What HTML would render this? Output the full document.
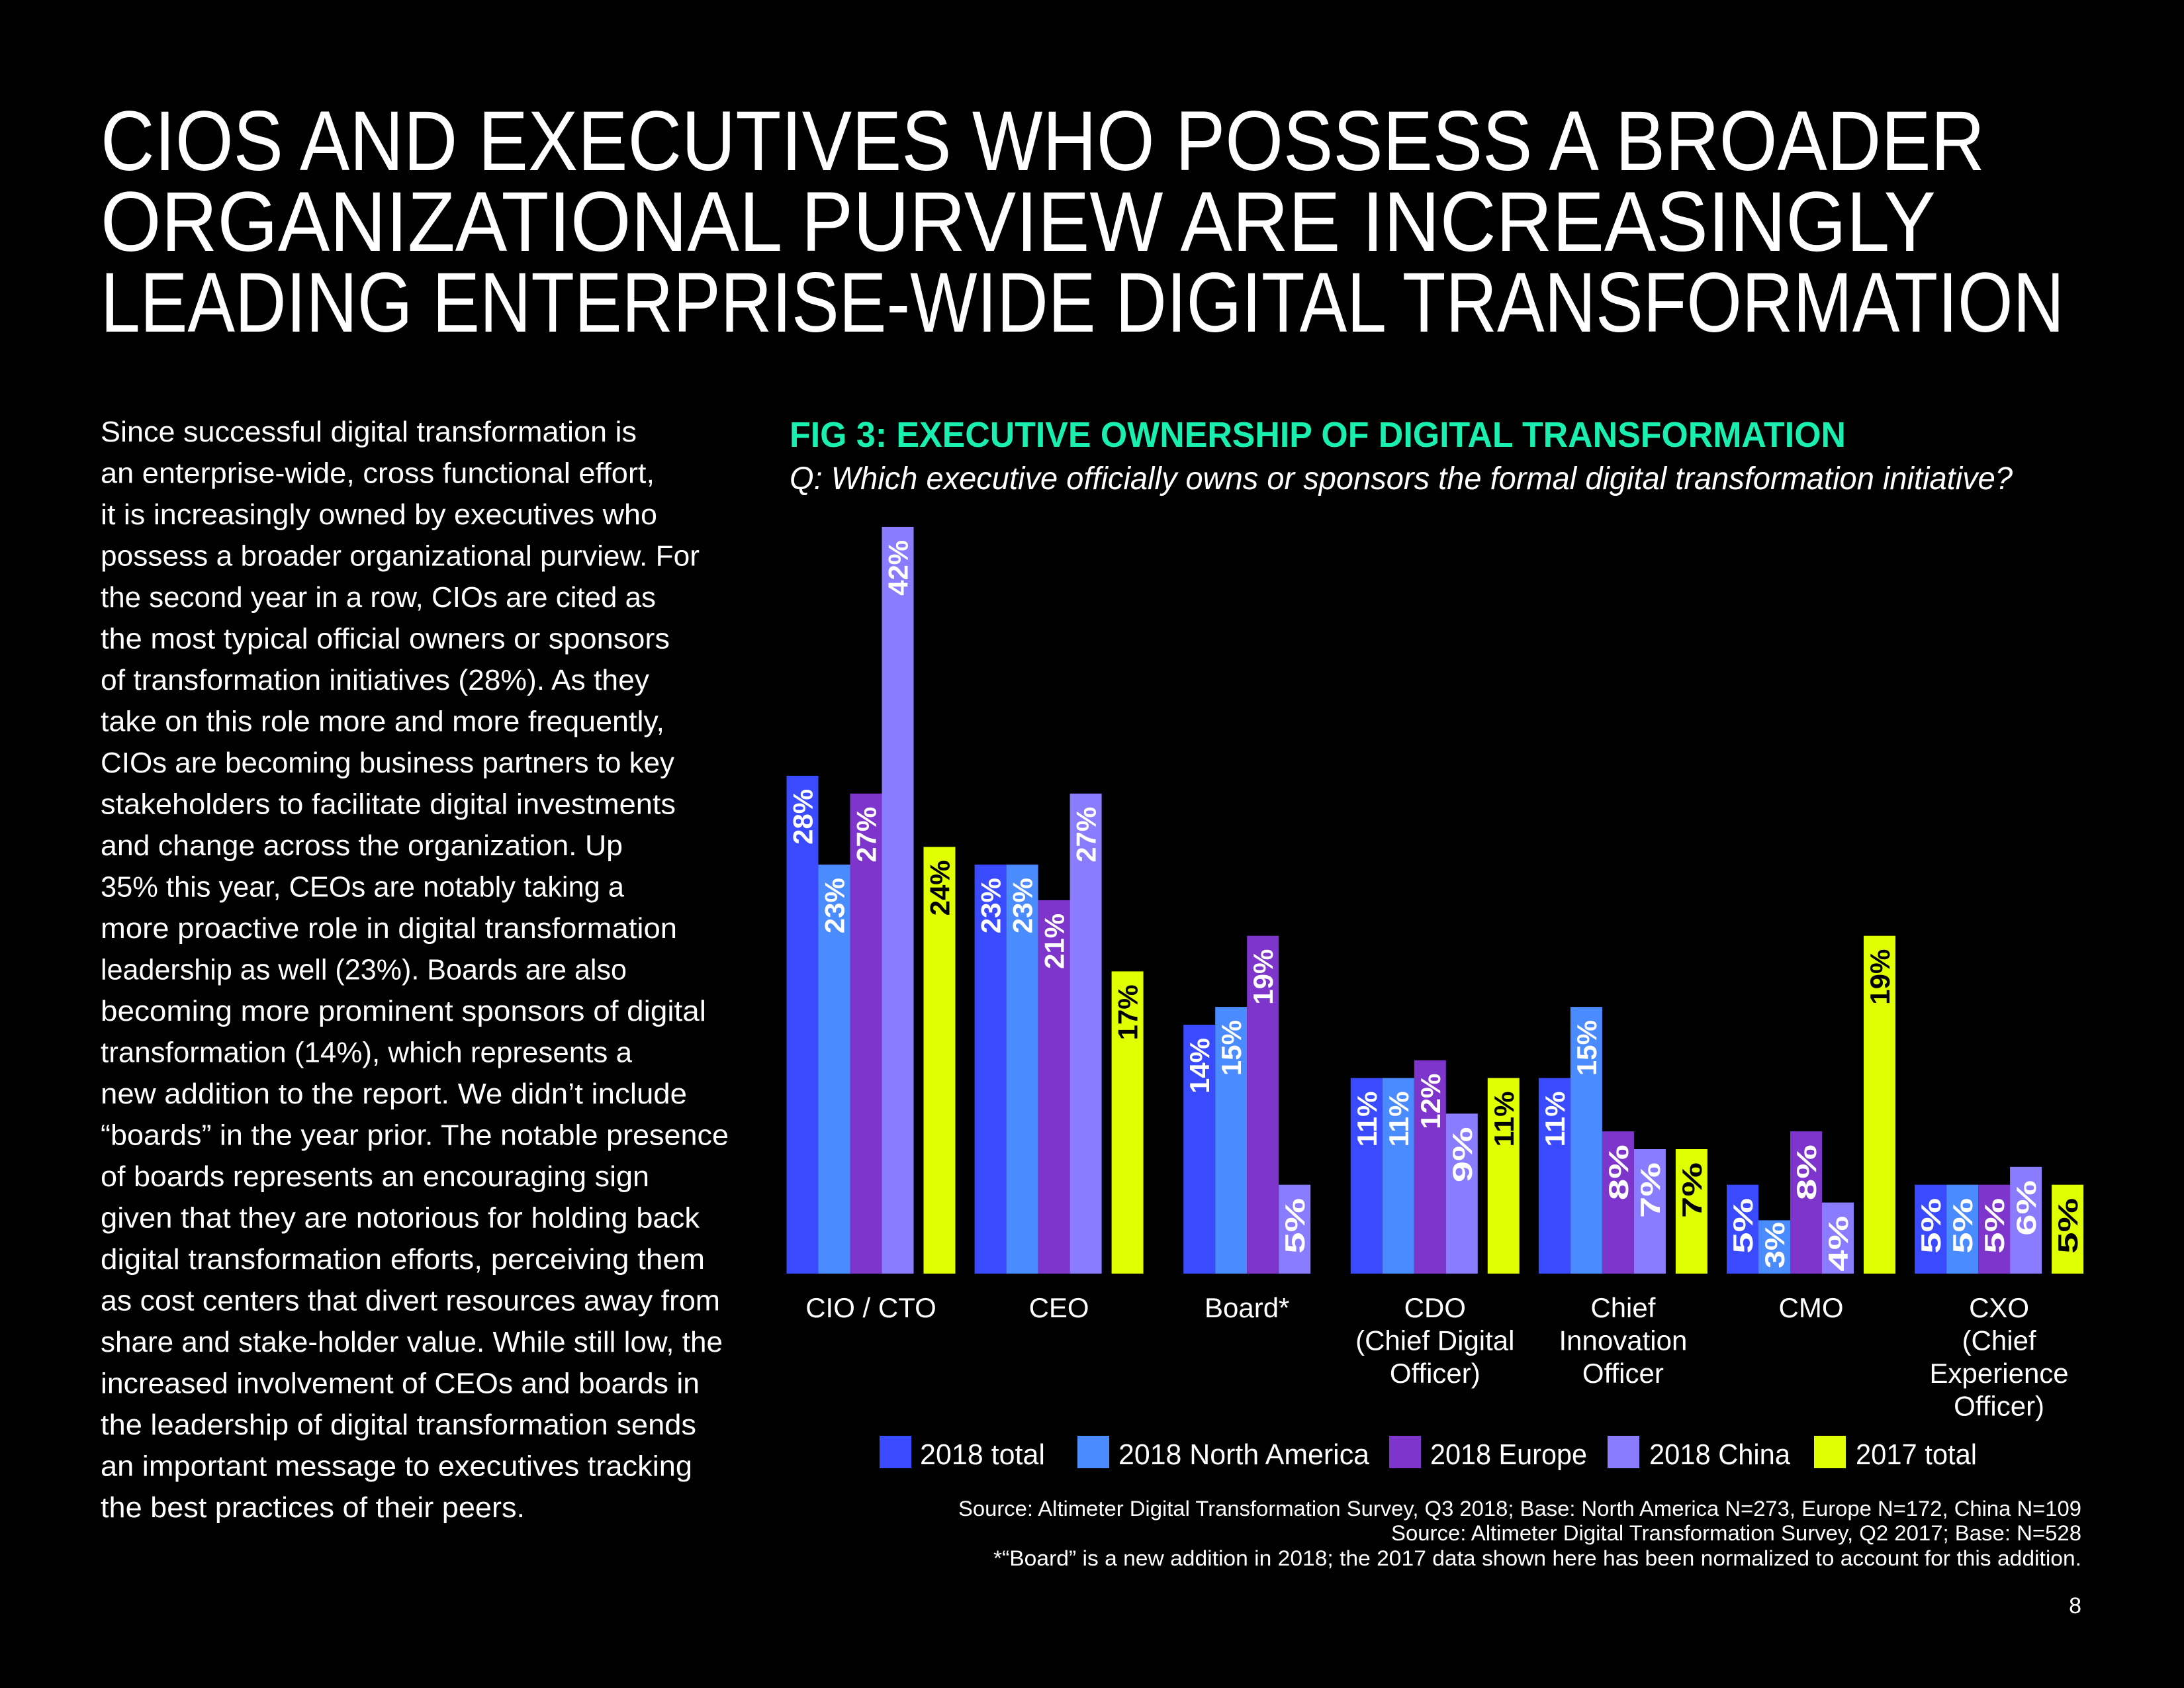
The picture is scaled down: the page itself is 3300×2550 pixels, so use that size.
<!DOCTYPE html>
<html><head><meta charset="utf-8"><style>
html,body{margin:0;padding:0;background:#000;}
svg{display:block;}
text{font-family:"Liberation Sans",sans-serif;}
</style></head><body>
<svg id="pg" width="3300" height="2550" viewBox="0 0 3300 2550" xmlns="http://www.w3.org/2000/svg">
<rect x="0" y="0" width="3300" height="2550" fill="#000"/>
<g fill="#fff" font-size="128">
<text x="152" y="257" textLength="2847" lengthAdjust="spacingAndGlyphs">CIOS AND EXECUTIVES WHO POSSESS A BROADER</text>
<text x="152" y="379" textLength="2773" lengthAdjust="spacingAndGlyphs">ORGANIZATIONAL PURVIEW ARE INCREASINGLY</text>
<text x="152" y="501" textLength="2967" lengthAdjust="spacingAndGlyphs">LEADING ENTERPRISE-WIDE DIGITAL TRANSFORMATION</text>
</g>
<g id="body" fill="#fff" font-size="44"></g>
<text x="1193" y="675" font-size="54" font-weight="bold" fill="#19f0b0" textLength="1596" lengthAdjust="spacingAndGlyphs">FIG 3: EXECUTIVE OWNERSHIP OF DIGITAL TRANSFORMATION</text>
<text x="1193" y="739" font-size="48" font-style="italic" fill="#fff" textLength="1848" lengthAdjust="spacingAndGlyphs">Q: Which executive officially owns or sponsors the formal digital transformation initiative?</text>
<g id="chart"></g>
<g id="legend"></g>
<g fill="#fff" font-size="32" text-anchor="end">
<text x="3145" y="2290" textLength="1697" lengthAdjust="spacingAndGlyphs">Source: Altimeter Digital Transformation Survey, Q3 2018; Base: North America N=273, Europe N=172, China N=109</text>
<text x="3145" y="2327" textLength="1043" lengthAdjust="spacingAndGlyphs">Source: Altimeter Digital Transformation Survey, Q2 2017; Base: N=528</text>
<text x="3145" y="2365" textLength="1644" lengthAdjust="spacingAndGlyphs">*“Board” is a new addition in 2018; the 2017 data shown here has been normalized to account for this addition.</text>
</g>
<text x="3145" y="2437" font-size="34" fill="#fff" text-anchor="end">8</text>
</svg>
<script>
const NS='http://www.w3.org/2000/svg';
function mk(tag,attrs,parent,txt){const e=document.createElementNS(NS,tag);for(const k in attrs)e.setAttribute(k,attrs[k]);if(txt!==undefined)e.textContent=txt;parent.appendChild(e);return e;}

// body text
const bodyLines=["Since successful digital transformation is","an enterprise-wide, cross functional effort,","it is increasingly owned by executives who","possess a broader organizational purview. For","the second year in a row, CIOs are cited as","the most typical official owners or sponsors","of transformation initiatives (28%). As they","take on this role more and more frequently,","CIOs are becoming business partners to key","stakeholders to facilitate digital investments","and change across the organization. Up","35% this year, CEOs are notably taking a","more proactive role in digital transformation","leadership as well (23%). Boards are also","becoming more prominent sponsors of digital","transformation (14%), which represents a","new addition to the report. We didn’t include","“boards” in the year prior. The notable presence","of boards represents an encouraging sign","given that they are notorious for holding back","digital transformation efforts, perceiving them","as cost centers that divert resources away from","share and stake-holder value. While still low, the","increased involvement of CEOs and boards in","the leadership of digital transformation sends","an important message to executives tracking","the best practices of their peers."];
const bodyRight=[457,470,472,502,471,481,466,477,484,485,447,448,486,450,507,454,493,523,466,502,506,517,519,502,500,497,377];
const body=document.getElementById('body');
bodyLines.forEach((l,i)=>{const t=mk('text',{x:152,y:(667+i*62.5).toFixed(1),textLength:(bodyRight[i]*2.1046-152).toFixed(0),lengthAdjust:'spacingAndGlyphs'},body,l);

});

// chart data
const categories=[["CIO / CTO"],["CEO"],["Board*"],["CDO","(Chief Digital","Officer)"],["Chief","Innovation","Officer"],["CMO"],["CXO","(Chief","Experience","Officer)"]];
const series=["2018 total","2018 North America","2018 Europe","2018 China","2017 total"];
const total2018=[28,23,14,11,11,5,5];
const northAmerica2018=[23,23,15,11,15,3,5];
const europe2018=[27,21,19,12,8,8,5];
const china2018=[42,27,5,9,7,4,6];
const total2017=[24,17,null,11,7,19,5];
const colors=["#3a4aff","#4a8bff","#7d35cc","#8a7cff","#e0ff00"];

const chart=document.getElementById('chart');
const baseY=1924, pxPer=26.86;
function yScale(v){return baseY-v*pxPer;}
function catCenter(i){return 1316+i*284.1;}
const W=48, GAP=15;
const all=[total2018,northAmerica2018,europe2018,china2018,total2017];
categories.forEach((cat,ci)=>{
  const has17=total2017[ci]!==null;
  const groupW=has17?5*W+GAP:4*W;
  let x=catCenter(ci)-groupW/2;
  for(let s=0;s<5;s++){
    const v=all[s][ci];
    if(s===4){x+=GAP;}
    if(v===null||v===undefined){continue;}
    const top=yScale(v);
    const r=mk('rect',{x:x.toFixed(1),y:top.toFixed(1),width:W,height:(baseY-top).toFixed(1),fill:colors[s]},chart);
    
    
    const cx=x+W/2+15, ty=Math.min(top+20, baseY-78);
    const t=mk('text',{x:0,y:0,transform:`translate(${cx.toFixed(1)},${ty.toFixed(1)}) rotate(-90)`,'text-anchor':'end','font-size':42,'font-weight':'bold',fill:s===4?'#000':'#fff',textLength:v<4?70:84,lengthAdjust:'spacingAndGlyphs'},chart,v+'%');
    
    
    x+=W;
  }
  cat.forEach((line,li)=>{
    const t=mk('text',{x:catCenter(ci).toFixed(1),y:1990+li*49.5,'text-anchor':'middle','font-size':42,fill:'#fff'},chart,line);
    
    
  });
});

// legend
const legSq=[1329,1628,2099,2429,2741];
const legTx=[1390,1690,2161,2492,2804];
const legEnd=[1579,2069,2398,2705,2987];
const legend=document.getElementById('legend');
series.forEach((s,i)=>{
  const r=mk('rect',{x:legSq[i],y:2169,width:48,height:49,fill:colors[i]},legend);
  
  
  const t=mk('text',{x:legTx[i],y:2212,'font-size':44,fill:'#fff',textLength:legEnd[i]-legTx[i],lengthAdjust:'spacingAndGlyphs'},legend,s);
  
  
});
</script>
</body></html>
